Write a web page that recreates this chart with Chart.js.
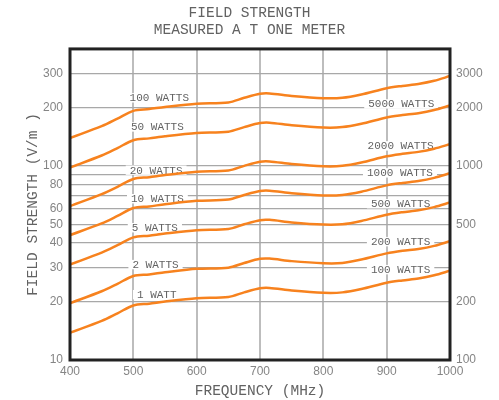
<!DOCTYPE html>
<html>
<head>
<meta charset="utf-8">
<script src="https://cdn.jsdelivr.net/npm/chart.js@4.4.1/dist/chart.umd.min.js"></script>
<style>
  html, body { margin: 0; padding: 0; background: #fff; }
  #wrap { width: 499px; height: 400px; }
</style>
</head>
<body>
<div id="wrap"><canvas id="fieldChart"></canvas></div>
<script>
// Frequency points (MHz)
const freqs = [400, 450, 475, 500, 525, 550, 600, 650, 675, 700, 715, 750, 800, 830, 860, 900, 925, 950, 975, 1000];

// Field strength (V/m) for each transmitter power
const w100 = [139, 160, 175, 192, 196, 201, 209, 212, 224, 235, 236, 229, 223, 224, 233, 251, 258, 264, 274, 290];
const w50  = [98.0, 113, 123.5, 135.5, 138.5, 142, 147.5, 150, 158.3, 166, 166.8, 161.8, 157.5, 158.3, 164.7, 177.5, 182.5, 186.7, 193.8, 204.5];
const w20  = [62.0, 71.5, 78.0, 85.6, 87.4, 89.6, 93.2, 94.6, 100, 105, 105.4, 102.2, 99.5, 100, 104, 112, 115.3, 118, 122.5, 129.3];
const w10  = [44.0, 50.5, 55.2, 60.6, 61.8, 63.4, 66.0, 67.0, 70.8, 74.2, 74.5, 72.3, 70.4, 70.8, 73.6, 79.3, 81.6, 83.5, 86.7, 91.5];
const w5   = [31.0, 35.7, 39.0, 42.8, 43.7, 44.8, 46.6, 47.3, 50.0, 52.5, 52.7, 51.1, 49.8, 50.0, 52.0, 56.0, 57.7, 59.0, 61.3, 64.7];
const w2   = [19.6, 22.6, 24.7, 27.1, 27.6, 28.3, 29.5, 29.9, 31.6, 33.2, 33.3, 32.3, 31.5, 31.6, 32.9, 35.4, 36.5, 37.3, 38.7, 40.9];
const w1   = [13.8, 15.9, 17.4, 19.1, 19.5, 20.0, 20.8, 21.1, 22.3, 23.4, 23.5, 22.8, 22.2, 22.3, 23.2, 25.0, 25.7, 26.3, 27.3, 28.8];
const seriesList = [w100, w50, w20, w10, w5, w2, w1];

// Axis ticks
const xTicks = [400, 500, 600, 700, 800, 900, 1000];
const yGridTicks = [10, 20, 30, 40, 50, 60, 70, 80, 90, 100, 200, 300];
const yLabelTicks = [10, 20, 30, 40, 50, 60, 80, 100, 200, 300];
const rightTicks = [10, 20, 50, 100, 200, 300];

// Curve labels: text, frequency and level they sit at
const labelTexts = ['100 WATTS', '50 WATTS', '20 WATTS', '10 WATTS', '5 WATTS', '2 WATTS', '1 WATT',
                    '5000 WATTS', '2000 WATTS', '1000 WATTS', '500 WATTS', '200 WATTS', '100 WATTS'];
const labelFreqs = [541, 538, 536, 538, 534, 535, 537, 923, 922, 921, 922, 922, 922];
const labelLevels = [224, 158.6, 95.0, 67.7, 48.0, 31.0, 21.7, 208.3, 126.7, 92.0, 63.8, 40.7, 29.2];

const ORANGE = '#f7821e';
const TEXT = '#626262';
const MONO = "'Liberation Mono', 'DejaVu Sans Mono', monospace";
const SANS = "'Liberation Sans', Arial, sans-serif";

const curveLabels = {
    id: 'curveLabels',
    beforeDatasetsDraw(chart) {
        const ctx = chart.ctx;
        const xs = chart.scales.x, ys = chart.scales.y;
        ctx.save();
        ctx.font = '11px ' + MONO;
        ctx.textAlign = 'center';
        ctx.textBaseline = 'middle';
        labelTexts.forEach((t, i) => {
            const px = xs.getPixelForValue(labelFreqs[i]);
            const py = ys.getPixelForValue(labelLevels[i]);
            const w = ctx.measureText(t).width;
            ctx.fillStyle = '#ffffff';
            ctx.fillRect(px - w / 2 - 4, py - 4.7, w + 8, 9.4);
            ctx.fillStyle = TEXT;
            ctx.fillText(t, px, py + 0.5);
        });
        ctx.restore();
    }
};

const frameBorder = {
    id: 'frameBorder',
    afterDatasetsDraw(chart) {
        const a = chart.chartArea;
        const ctx = chart.ctx;
        ctx.save();
        ctx.strokeStyle = '#222222';
        ctx.lineWidth = 3;
        ctx.strokeRect(a.left, a.top, a.right - a.left, a.bottom - a.top);
        ctx.restore();
    }
};

new Chart(document.getElementById('fieldChart').getContext('2d'), {
    type: 'line',
    data: {
        datasets: seriesList.map(s => ({
            data: freqs.map((f, i) => ({ x: f, y: s[i] })),
            borderColor: ORANGE,
            borderWidth: 2.5,
            pointRadius: 0,
            fill: false,
            tension: 0.3
        }))
    },
    options: {
        responsive: true,
        maintainAspectRatio: false,
        animation: false,
        layout: { padding: 0 },
        plugins: {
            legend: { display: false },
            tooltip: { enabled: false },
            title: {
                display: true,
                text: ['FIELD STRENGTH', 'MEASURED A T ONE METER'],
                color: TEXT,
                font: { family: MONO, size: 14.5, weight: 'normal', lineHeight: 1.17 },
                padding: { top: 5, bottom: 10 }
            }
        },
        scales: {
            x: {
                type: 'linear',
                min: 400,
                max: 1000,
                afterBuildTicks: s => { s.ticks = xTicks.map(v => ({ value: v })); },
                afterFit: s => { s.height = 40; },
                border: { display: false },
                grid: { color: '#bdbdbd', lineWidth: 2, drawTicks: false },
                ticks: {
                    color: '#858585',
                    padding: 4,
                    font: { family: SANS, size: 12 },
                    callback: v => String(v)
                },
                title: {
                    display: true,
                    text: 'FREQUENCY (MHz)',
                    color: TEXT,
                    font: { family: MONO, size: 14.5, lineHeight: 1.2 },
                    padding: { top: 0, bottom: 0 }
                }
            },
            y: {
                type: 'logarithmic',
                position: 'left',
                min: 10,
                max: 400,
                afterBuildTicks: s => { s.ticks = yGridTicks.map(v => ({ value: v })); },
                afterFit: s => { s.width = 70; },
                border: { display: false },
                grid: { color: '#a8a8a8', lineWidth: 1.3, drawTicks: false },
                ticks: {
                    color: '#858585',
                    padding: 7,
                    autoSkip: false,
                    font: { family: SANS, size: 12 },
                    callback: v => yLabelTicks.includes(v) ? String(v) : ''
                },
                title: {
                    display: true,
                    text: 'FIELD STRENGTH (V/m )',
                    color: TEXT,
                    font: { family: MONO, size: 14.5, lineHeight: 1.2 },
                    padding: { top: 24, bottom: 0 }
                }
            },
            y2: {
                type: 'logarithmic',
                position: 'right',
                min: 10,
                max: 400,
                afterBuildTicks: s => { s.ticks = rightTicks.map(v => ({ value: v })); },
                afterFit: s => { s.width = 49; },
                border: { display: false },
                grid: { drawOnChartArea: false, drawTicks: false },
                ticks: {
                    color: '#858585',
                    padding: 6,
                    autoSkip: false,
                    font: { family: SANS, size: 12 },
                    callback: v => String(v * 10)
                }
            }
        }
    },
    plugins: [curveLabels, frameBorder]
});
</script>
</body>
</html>
